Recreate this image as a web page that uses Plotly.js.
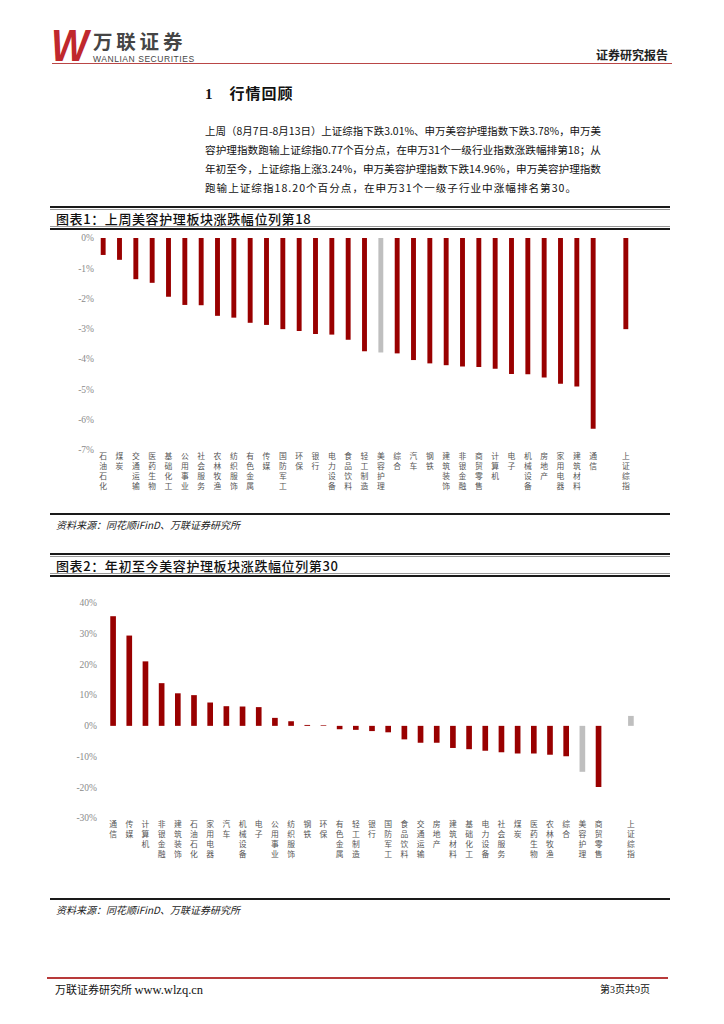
<!DOCTYPE html>
<html><head><meta charset="utf-8">
<script src="https://cdn.plot.ly/plotly-3.0.1.min.js"></script>
<style>
html,body{margin:0;padding:0;background:#fff;}
body{width:724px;height:1024px;position:relative;overflow:hidden;font-family:"Noto Sans CJK SC","Noto Sans",sans-serif;color:#111;}
.abs{position:absolute;white-space:nowrap;}
.rule{position:absolute;left:50px;width:620px;background:#1a1a1a;}
.para{position:absolute;left:205px;font-size:10.6px;line-height:11px;white-space:nowrap;color:#111;transform-origin:left top;}
.ctitle{position:absolute;left:56px;font-size:13px;line-height:13px;font-weight:500;color:#111;letter-spacing:0.6px;}
.src{position:absolute;left:56px;font-size:10px;line-height:10px;font-style:italic;color:#222;}
</style>
</head><body>

<!-- header -->
<div class="abs" style="left:51px;top:24px;font-family:'Liberation Sans';font-weight:bold;font-style:italic;font-size:44px;line-height:44px;color:#C0282D;transform:scaleX(0.9);transform-origin:left;">W</div>
<div class="abs" style="left:93px;top:30.5px;font-size:19.5px;line-height:19.5px;font-weight:bold;color:#454545;letter-spacing:3.8px;">万联证券</div>
<div class="abs" style="left:93px;top:55px;font-family:'Liberation Sans';font-size:8.5px;line-height:8.5px;color:#454545;letter-spacing:0.55px;">WANLIAN SECURITIES</div>
<div class="abs" style="left:596px;top:49px;font-size:12px;line-height:12px;font-weight:bold;color:#222;">证券研究报告</div>
<div style="position:absolute;left:52px;top:62.5px;width:620px;height:1.5px;background:#B94646;"></div>

<!-- section heading -->
<div class="abs" style="left:205px;top:85px;font-size:15px;line-height:15px;font-weight:bold;"><span style="font-family:'Liberation Serif';">1</span><span style="margin-left:17px;letter-spacing:1px;">行情回顾</span></div>

<div class="para fit" style="top:124.5px;">上周（8月7日-8月13日）上证综指下跌3.01%、申万美容护理指数下跌3.78%，申万美</div>
<div class="para fit" style="top:143.5px;">容护理指数跑输上证综指0.77个百分点，在申万31个一级行业指数涨跌幅排第18；从</div>
<div class="para fit" style="top:162.5px;">年初至今，上证综指上涨3.24%，申万美容护理指数下跌14.96%，申万美容护理指数</div>
<div class="para" style="top:181.5px;letter-spacing:1px;">跑输上证综指18.20个百分点，在申万31个一级子行业中涨幅排名第30。</div>

<!-- chart 1 frame -->
<div class="rule" style="top:206px;height:1.5px;"></div>
<div class="rule" style="top:208.5px;height:1px;background:#999;"></div>
<div class="ctitle" style="top:211.5px;">图表1：上周美容护理板块涨跌幅位列第18</div>
<div class="rule" style="top:226px;height:1px;background:#999;"></div>
<div class="rule" style="top:227.5px;height:2px;"></div>
<div id="c1" style="position:absolute;left:0;top:230px;width:724px;height:280px;"></div>
<div class="rule" style="top:513px;height:2px;"></div>
<div class="src" style="top:520px;">资料来源：同花顺iFinD、万联证券研究所</div>

<!-- chart 2 frame -->
<div class="rule" style="top:553px;height:1.5px;"></div>
<div class="rule" style="top:555.5px;height:1px;background:#999;"></div>
<div class="ctitle" style="top:558.5px;">图表2：年初至今美容护理板块涨跌幅位列第30</div>
<div class="rule" style="top:573px;height:1px;background:#999;"></div>
<div class="rule" style="top:574.5px;height:2px;"></div>
<div id="c2" style="position:absolute;left:0;top:580px;width:724px;height:310px;"></div>
<div class="rule" style="top:898px;height:2px;"></div>
<div class="src" style="top:905px;">资料来源：同花顺iFinD、万联证券研究所</div>

<!-- footer -->
<div style="position:absolute;left:47px;top:977px;width:621px;height:2px;background:#B83A3A;"></div>
<div class="abs" style="left:55px;top:983px;font-size:11px;line-height:13px;color:#111;">万联证券研究所 <span style="font-family:'Liberation Serif';font-size:12.5px;">www.wlzq.cn</span></div>
<div class="abs" style="left:600px;top:983px;font-size:10px;line-height:12px;color:#111;">第<span style="font-family:'Liberation Serif';">3</span>页共<span style="font-family:'Liberation Serif';">9</span>页</div>

<script>
// fit full paragraph lines to the text column width (205..601)
document.querySelectorAll('.fit').forEach(function(el){
  var w = el.getBoundingClientRect().width;
  el.style.transform = 'scaleX(' + (396 / w) + ')';
});

// ---- data: chart 1 (weekly change, %) ----
var cats1 = ['石油石化','煤炭','交通运输','医药生物','基础化工','公用事业','社会服务','农林牧渔','纺织服饰','有色金属','传媒','国防军工','环保','银行','电力设备','食品饮料','轻工制造','美容护理','综合','汽车','钢铁','建筑装饰','非银金融','商贸零售','计算机','电子','机械设备','房地产','家用电器','建筑材料','通信',' ','上证综指'];
var vals1 = [-0.56,-0.72,-1.36,-1.48,-1.94,-2.21,-2.22,-2.57,-2.63,-2.80,-2.87,-3.01,-3.07,-3.17,-3.19,-3.36,-3.74,-3.78,-3.81,-4.03,-4.14,-4.20,-4.24,-4.26,-4.32,-4.49,-4.50,-4.61,-4.81,-4.90,-6.30,null,-3.01];
var gray1 = ['美容护理'];
var yTicks1 = [0,-1,-2,-3,-4,-5,-6,-7];
var yLabels1 = ['0%','-1%','-2%','-3%','-4%','-5%','-6%','-7%'];

// ---- data: chart 2 (year-to-date change, %) ----
var cats2 = ['通信','传媒','计算机','非银金融','建筑装饰','石油石化','家用电器','汽车','机械设备','电子','公用事业','纺织服饰','钢铁','环保','有色金属','轻工制造','银行','国防军工','食品饮料','交通运输','房地产','建筑材料','基础化工','电力设备','社会服务','煤炭','医药生物','农林牧渔','综合','美容护理','商贸零售',' ','上证综指'];
var vals2 = [35.7,29.4,21.0,13.9,10.6,10.0,7.6,6.4,6.3,6.1,2.6,1.5,0.3,0.2,-1.1,-1.3,-1.7,-2.1,-4.4,-5.5,-5.5,-7.2,-7.6,-8.1,-8.6,-9.0,-9.0,-9.4,-9.9,-14.96,-19.9,null,3.24];
var gray2 = ['美容护理','上证综指'];
var yTicks2 = [40,30,20,10,0,-10,-20,-30];
var yLabels2 = ['40%','30%','20%','10%','0%','-10%','-20%','-30%'];

var RED = '#990000', GRAY = '#BFBFBF';
function vert(s){ return s.split('').join('<br>'); }
function colors(cats, grays){ return cats.map(function(c){ return grays.indexOf(c) >= 0 ? GRAY : RED; }); }

function makeChart(id, cats, vals, grays, yt, yl, yr, margin, bw, standoff){
  var trace = {type:'bar', x:cats, y:vals, width:bw,
    marker:{color:colors(cats, grays), line:{width:0}}, hoverinfo:'none'};
  var layout = {
    width:724, height:document.getElementById(id).offsetHeight, margin:margin,
    paper_bgcolor:'rgba(0,0,0,0)', plot_bgcolor:'rgba(0,0,0,0)', showlegend:false,
    xaxis:{type:'category', categoryorder:'array', categoryarray:cats,
      tickmode:'array', tickvals:cats, ticktext:cats.map(vert), tickangle:0,
      range:[-0.5, cats.length-0.5],
      showgrid:false, showline:false, zeroline:false, ticks:'',
      tickfont:{family:'Noto Sans CJK SC', size:7.8, color:'#555'}},
    yaxis:{range:yr, tickmode:'array', tickvals:yt, ticktext:yl,
      showgrid:false, showline:false, zeroline:false, ticks:'', ticklabelstandoff:standoff,
      tickfont:{family:'Liberation Serif', size:9.5, color:'#8a8a8a'}}
  };
  Plotly.newPlot(id, [trace], layout, {staticPlot:true, displayModeBar:false});
}

makeChart('c1', cats1, vals1, gray1, yTicks1, yLabels1, [-7,0], {l:95,r:90,t:8,b:60}, 0.3, 0);
makeChart('c2', cats2, vals2, gray2, yTicks2, yLabels2, [-30,40], {l:105,r:85,t:23,b:72}, 0.35, 7);
</script>
</body></html>
